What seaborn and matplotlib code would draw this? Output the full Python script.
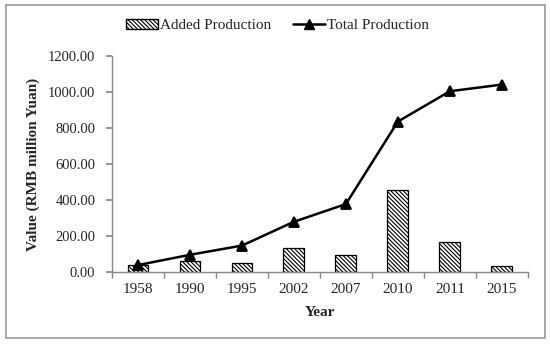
import matplotlib
matplotlib.use("Agg")
import matplotlib.pyplot as plt
from matplotlib.patches import Patch, Rectangle
from matplotlib.lines import Line2D
import seaborn as sns
import pandas as pd

# --- data ---
years = ["1958", "1990", "1995", "2002", "2007", "2010", "2011", "2015"]
added_production = [38, 60, 52, 133, 97, 457, 167, 37]
total_production = [40, 97, 148, 280, 378, 835, 1003, 1040]

df = pd.DataFrame({"Year": years, "Added": added_production, "Total": total_production})

sns.set_theme(style="white")
plt.rcParams["font.family"] = ["Liberation Serif", "DejaVu Serif"]
plt.rcParams["hatch.linewidth"] = 0.8

HATCH = "\\" * 8

fig = plt.figure(figsize=(5.5, 3.44), dpi=100)
ax = fig.add_axes([0.2036, 0.2084, 0.756, 0.6297])

sns.barplot(data=df, x="Year", y="Added", ax=ax, color="white", width=0.40,
            edgecolor="black", linewidth=0.9, hatch=HATCH)
sns.pointplot(data=df, x="Year", y="Total", ax=ax, color="black", marker="^",
              markersize=7, linewidth=1.8)

ax.set_ylim(0, 1200)
ax.set_yticks(range(0, 1201, 200))
ax.set_yticklabels([f"{v:.2f}" for v in range(0, 1201, 200)], fontsize=10.5)
ax.set_xlim(-0.5, len(years) - 0.5)
ax.tick_params(axis="x", labelsize=11, length=0, pad=8)
ax.tick_params(axis="y", length=4, color="#888888", left=True, pad=8)
# category separator ticks on x axis (Excel style)
ax.set_xticks([i - 0.5 for i in range(len(years) + 1)], minor=True)
ax.tick_params(axis="x", which="minor", length=4, color="#888888", bottom=True)

ax.set_xlabel("Year", fontsize=11, fontweight="bold", labelpad=7)
ax.set_ylabel("Value (RMB million Yuan)", fontsize=11, fontweight="bold", labelpad=6)

sns.despine(ax=ax)
for side in ["left", "bottom"]:
    ax.spines[side].set_color("#888888")
    ax.spines[side].set_linewidth(1.0)

handles = [Patch(facecolor="white", edgecolor="black", hatch=HATCH, label="Added Production"),
           Line2D([0], [0], color="black", lw=1.8, marker="^", markersize=7, label="Total Production")]
fig.legend(handles=handles, loc="center", bbox_to_anchor=(0.505, 0.925), ncol=2,
           frameon=False, fontsize=11, handlelength=2.1, columnspacing=1.4,
           handletextpad=0.15, handleheight=0.6)

# grey frame around the whole chart
fig.patches.append(Rectangle((0.011, 0.0174), 0.98, 0.968, transform=fig.transFigure,
                             fill=False, edgecolor="#999999", linewidth=1.2))

fig.savefig("out.png", dpi=100)
